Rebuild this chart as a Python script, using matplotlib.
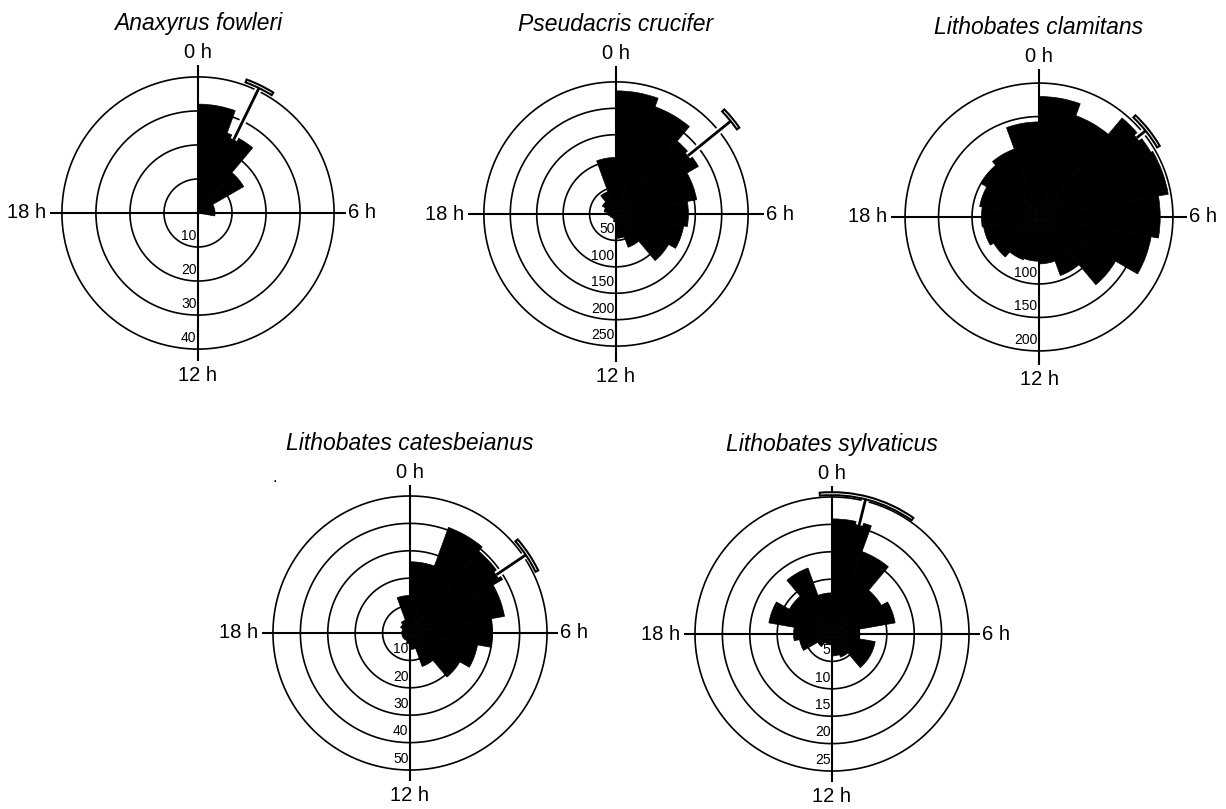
import numpy as np
import matplotlib
matplotlib.use('Agg')
import matplotlib.pyplot as plt
import matplotlib.patheffects as pe

plt.rcParams['font.family'] = ['Liberation Sans', 'DejaVu Sans']

SPECIES = ['Anaxyrus fowleri', 'Pseudacris crucifer', 'Lithobates clamitans',
           'Lithobates catesbeianus', 'Lithobates sylvaticus']
BIN_START = np.arange(0, 360, 20)  # deg, clockwise from 0 h

# counts per bin, starting at 0 h going clockwise
fowleri = [32, 25, 15.5, 5, 5, 0, 0, 0, 0, 0, 0, 0, 0, 0, 0, 0, 0, 0]
crucifer = [233, 216, 180, 155, 137, 130, 115, 67, 46, 15, 10, 10, 12, 15, 23, 30, 45, 107]
clamitans = [180, 161, 193, 196, 181, 170, 132, 93, 70, 66, 68, 78, 84, 86, 90, 100, 108, 142]
catesbeianus = [26, 41, 39, 35, 30, 25, 21, 13, 6, 4, 3, 3, 3, 3, 3, 4, 5, 13.7]
sylvaticus = [21, 16, 10.4, 11.7, 5, 8, 8, 4.5, 4, 2, 2, 3, 6, 7, 11.7, 9, 12.8, 7.5]
COUNTS = [fowleri, crucifer, clamitans, catesbeianus, sylvaticus]

RINGS = [[10, 20, 30, 40], [50, 100, 150, 200, 250], [50, 100, 150, 200],
         [10, 20, 30, 40, 50], [5, 10, 15, 20, 25]]
RMAX = [43.5, 280, 221, 54, 27]

# mean vector and 95% CI
MEAN_ANGLE = [26, 51, 51, 56, 14]
MEAN_FROM = [24, 175, 188, 38, 20.5]
MEAN_TO = [41.3, 282, 207, 51.5, 25.6]
CI_LOW = [20, 46, 43.5, 49, -5]
CI_HIGH = [32, 55, 59.5, 64, 35]

HOUR_LABELS = ['0 h', '6 h', '12 h', '18 h']

W, H = 1226, 809
CENTERS = [(198, 213), (616, 214), (1039, 217), (410, 633), (832, 634)]
HALF = 148  # px from centre to end of the cross lines

fig = plt.figure(figsize=(W / 100, H / 100), dpi=100)

for ii in range(5):
    cx, cy = CENTERS[ii]
    ax = fig.add_axes([(cx - HALF) / W, 1 - (cy + HALF) / H, 2 * HALF / W, 2 * HALF / H],
                      projection='polar')
    ax.set_theta_zero_location('N')
    ax.set_theta_direction(-1)
    ax.set_ylim(0, RMAX[ii])
    ax.set_xticks([])
    ax.set_yticks([])
    ax.grid(False)
    ax.spines['polar'].set_visible(False)
    ax.patch.set_alpha(0)

    t = np.linspace(0, 2 * np.pi, 400)
    for v in RINGS[ii]:
        ax.plot(t, np.full_like(t, v), color='black', lw=1.2, zorder=1)
        ax.annotate(str(v), xy=(np.pi, v), xytext=(-1, 3), textcoords='offset points',
                    ha='right', va='bottom', fontsize=10, zorder=1)
    for a in [0, 90, 180, 270]:
        ax.plot([np.deg2rad(a)] * 2, [0, RMAX[ii]], color='black', lw=1.5, zorder=1)

    ax.bar(np.deg2rad(BIN_START + 10), COUNTS[ii], width=np.deg2rad(20), bottom=0,
           color='black', edgecolor='black', lw=0.5, zorder=2)

    th = np.deg2rad(MEAN_ANGLE[ii])
    ax.plot([th, th], [MEAN_FROM[ii], MEAN_TO[ii]], color='black', lw=2, zorder=4,
            clip_on=False, solid_capstyle='butt',
            path_effects=[pe.withStroke(linewidth=5, foreground='white')])
    band = 3 / HALF * RMAX[ii]
    lo, hi = np.deg2rad(CI_LOW[ii]), np.deg2rad(CI_HIGH[ii])
    ax.bar((lo + hi) / 2, band, width=hi - lo, bottom=MEAN_TO[ii] - band / 2,
           color='white', edgecolor='black', lw=1.5, zorder=5, clip_on=False)

    ax.text(0.5, 0.5 + 155 / (2 * HALF), HOUR_LABELS[0], transform=ax.transAxes,
            ha='center', va='baseline', fontsize=14.5)
    ax.text(0.5 + 150 / (2 * HALF), 0.5, HOUR_LABELS[1], transform=ax.transAxes,
            ha='left', va='center', fontsize=14.5)
    ax.text(0.5, 0.5 - 153 / (2 * HALF), HOUR_LABELS[2], transform=ax.transAxes,
            ha='center', va='top', fontsize=14.5)
    ax.text(0.5 - 152 / (2 * HALF), 0.5, HOUR_LABELS[3], transform=ax.transAxes,
            ha='right', va='center', fontsize=14.5)
    ax.text(0.5, 0.5 + 183 / (2 * HALF), SPECIES[ii], transform=ax.transAxes,
            ha='center', va='baseline', fontsize=16.5, style='italic')

fig.text(275 / W, 1 - 482 / H, '.', fontsize=12, ha='center')

fig.savefig('out.png', dpi=100, facecolor='white')
